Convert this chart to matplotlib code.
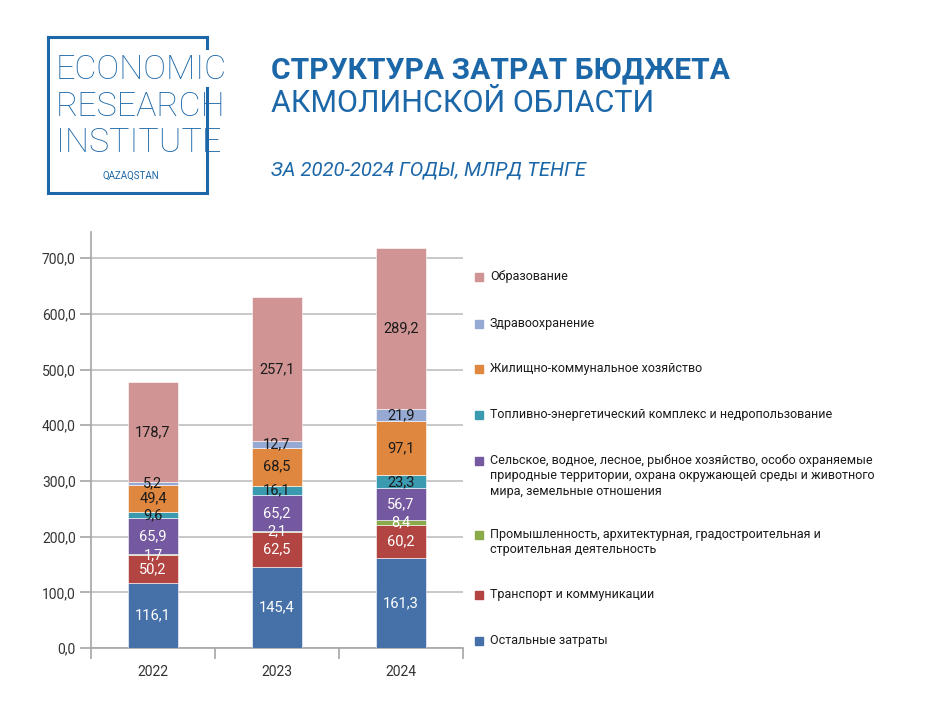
import matplotlib
matplotlib.use('Agg')

import matplotlib.pyplot as plt
from matplotlib.patches import Rectangle
from matplotlib.lines import Line2D
import numpy as np

# -----------------------------
# DATA
# -----------------------------
years = ['2022', '2023', '2024']

categories = [
    'Остальные затраты',
    'Транспорт и коммуникации',
    'Промышленность, архитектурная, градостроительная и\nстроительная деятельность',
    'Сельское, водное, лесное, рыбное хозяйство, особо охраняемые\nприродные территории, охрана окружающей среды и животного\nмира, земельные отношения',
    'Топливно-энергетический комплекс и недропользование',
    'Жилищно-коммунальное хозяйство',
    'Здравоохранение',
    'Образование',
]

other = [116.1, 145.4, 161.3]
transport = [50.2, 62.5, 60.2]
industry = [1.7, 2.1, 8.4]
agriculture = [65.9, 65.2, 56.7]
energy = [9.6, 16.1, 23.3]
housing = [49.4, 68.5, 97.1]
health = [5.2, 12.7, 21.9]
education = [178.7, 257.1, 289.2]

series = [other, transport, industry, agriculture, energy, housing, health, education]

colors = ['#4571A8', '#B24441', '#8BAA4A', '#7458A0', '#3A9AB0', '#E0873F', '#95A9D3', '#D09494']
label_colors = ['white', 'white', 'white', 'white', '#1a1a1a', '#1a1a1a', '#1a1a1a', '#1a1a1a']

y_ticks = [0, 100, 200, 300, 400, 500, 600, 700]

BLUE = '#1C67A8'
plt.rcParams['font.family'] = ['Roboto', 'DejaVu Sans']

W, H = 925, 714
fig = plt.figure(figsize=(W / 100, H / 100), dpi=100)


def fx(px):
    return px / W


def fy(py):
    return 1 - py / H


# -----------------------------
# LOGO
# -----------------------------
lw = 2.2
for (x0, y0, x1, y1) in [(48, 37, 207, 37), (48, 37, 48, 193), (48, 193, 207, 193),
                         (207, 37, 207, 48), (207, 88, 207, 193)]:
    fig.add_artist(Line2D([fx(x0), fx(x1)], [fy(y0), fy(y1)], color=BLUE, lw=lw))

for txt, y in [('ECONOMIC', 70), ('RESEARCH', 107), ('INSTITUTE', 143)]:
    fig.text(fx(56), fy(y), txt, color=BLUE, fontsize=24.5,
             fontweight='light', va='center', ha='left')
fig.text(fx(131), fy(176), 'QAZAQSTAN', color=BLUE, fontsize=7,
         va='center', ha='center')

# -----------------------------
# TITLE
# -----------------------------
fig.text(fx(271), fy(70), 'СТРУКТУРА ЗАТРАТ БЮДЖЕТА', color=BLUE, fontsize=21.6,
         fontweight='bold', va='center', ha='left')
fig.text(fx(271), fy(104), 'АКМОЛИНСКОЙ ОБЛАСТИ', color=BLUE, fontsize=22,
         va='center', ha='left')
fig.text(fx(271), fy(170), 'ЗА 2020-2024 ГОДЫ, МЛРД ТЕНГЕ', color=BLUE, fontsize=14.6,
         style='italic', va='center', ha='left')

# -----------------------------
# CHART
# -----------------------------
ax = fig.add_axes([fx(91), fy(648), (463 - 91) / W, (648 - 232) / H])
x = np.arange(len(years))
bottom = np.zeros(len(years))
for vals, col, lc in zip(series, colors, label_colors):
    vals = np.array(vals)
    ax.bar(x, vals, 0.4, bottom=bottom, color=col, edgecolor='white', linewidth=0.4, zorder=3)
    for xi, v, b in zip(x, vals, bottom):
        ax.text(xi, b + v / 2, f'{v:.1f}'.replace('.', ','), ha='center', va='center',
                color=lc, fontsize=10.5, zorder=4)
    bottom += vals

ax.set_xlim(-0.5, 2.5)
ax.set_ylim(0, 747)
ax.set_yticks(y_ticks)
ax.set_yticklabels([f'{t:.1f}'.replace('.', ',') for t in y_ticks])
ax.set_xticks(x)
ax.set_xticklabels(years)
ax.set_xticks([-0.5, 0.5, 1.5, 2.5], minor=True)
ax.tick_params(axis='x', which='major', length=0, pad=12, labelsize=10, labelcolor='#333333')
ax.tick_params(axis='x', which='minor', length=8, color='#A6A6A6', width=1.2)
ax.tick_params(axis='y', length=8, color='#A6A6A6', width=1.2, labelsize=10,
               labelcolor='#333333', pad=3)
ax.grid(axis='y', color='#BFBFBF', lw=1.2, zorder=0)
for s in ['top', 'right']:
    ax.spines[s].set_visible(False)
for s in ['left', 'bottom']:
    ax.spines[s].set_color('#A6A6A6')
    ax.spines[s].set_linewidth(1.2)

# -----------------------------
# LEGEND
# -----------------------------
legend_y = [641, 595, 535, 461, 415, 369, 324, 277]
for cat, col, ly in zip(categories, colors, legend_y):
    fig.add_artist(Rectangle((fx(475), fy(ly + 4)), 8 / W, 8 / H, color=col,
                             transform=fig.transFigure))
    fig.text(fx(490), fy(ly - 7), cat, fontsize=9, color='#1a1a1a', va='top', ha='left',
             linespacing=1.25)

fig.savefig('out.png', dpi=100)
